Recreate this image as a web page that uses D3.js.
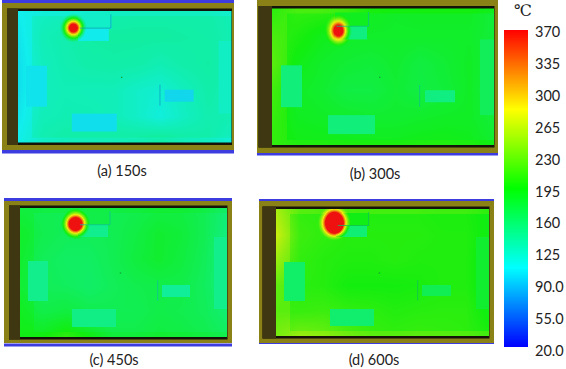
<!DOCTYPE html>
<html><head><meta charset="utf-8">
<script src="https://cdn.jsdelivr.net/npm/d3@7"></script>
<style>html,body{margin:0;padding:0;background:#fff}svg{display:block}text{font-family:Lato,"Open Sans",sans-serif;fill:#222}</style>
</head><body><svg id="c" width="566" height="369"></svg>
<script>
// ---- data ----
const panelNames = ["(a) 150s","(b) 300s","(c) 450s","(d) 600s"];
const tickLabels = ["370","335","300","265","230","195","160","125","90.0","55.0","20.0"];
const tickValues = [370,335,300,265,230,195,160,125,90,55,20];
const unit = "℃";
// air temperature grids (°C), 6 rows by 10 columns
const fieldA = [
 [116,124,126,128,132,134,134,134,134,128],
 [112,128,132,136,137,137,137,136,135,130],
 [110,126,131,134,135,134,130,134,136,130],
 [110,126,129,128,128,122,118,126,134,130],
 [113,128,130,130,128,122,114,124,132,130],
 [118,132,136,137,138,140,146,138,134,124]];
const fieldB = [
 [195,208,208,202,188,185,186,186,186,178],
 [208,200,190,185,184,184,184,184,184,178],
 [214,192,184,180,178,182,175,180,186,176],
 [204,186,182,174,174,180,174,178,186,172],
 [200,188,186,184,182,182,184,186,186,178],
 [198,192,192,190,190,190,192,192,190,182]];
const fieldC = [
 [170,168,168,168,168,170,174,174,168,154],
 [178,170,166,166,168,174,182,178,168,150],
 [176,166,162,162,168,176,182,176,166,148],
 [174,166,164,160,166,170,172,172,164,150],
 [182,172,176,170,168,168,172,170,166,156],
 [186,190,202,188,172,172,176,174,170,164]];
const fieldD = [
 [240,208,205,203,201,201,201,199,199,192],
 [254,212,207,203,203,203,203,201,201,192],
 [235,208,203,201,201,203,201,201,201,188],
 [212,205,203,196,196,196,198,201,201,188],
 [210,210,212,208,206,202,204,205,205,192],
 [222,235,230,218,210,208,210,208,206,200]];
// temperatures of: left unit, bottom unit, right unit, top block, shelf, right wall panel
const unitsA = [103,101,98,106,122,124];
const unitsB = [153,153,150,150,188,165];
const unitsC = [146,148,140,145,172,146];
const unitsD = [160,158,168,155,192,182];
// band temperature offset beside the walls
const edgeOffset = [-9,10,6,14];
const hotPeak = 370;

// ---- layout ----
const panels = [
 {f:[18,231.5,11,142.5],o:[2,234,3,150],bl:[0,3.5,150,153.5],hot:[25.7,12.5,4,4,14,15]},
 {f:[272,494,8.5,145],o:[257,498,0,153],bl:[0,1,153,155.5],hot:[29.7,15.8,4.5,5.5,14,17]},
 {f:[20,227,208,337],o:[4,232,201,343],bl:[198,201,343.5,346.5],hot:[26.6,12,6.5,6.5,15,16]},
 {f:[276,489,209,336],o:[259,494,201,343],bl:[199,201,343,344],hot:[27.2,10.5,9,10.5,17,18]}
];
const fields=[fieldA,fieldB,fieldC,fieldD], units=[unitsA,unitsB,unitsC,unitsD];
const labelPos=[[122,176],[375,179],[114,365],[374,365]];
// room plan in percent of the room: x0,x1,y0,y1
const plan=[[3.7,13.5,41,72],[25,46,78,91.5],[68.5,82,59.5,68.5],[28,42.5,13,22],[28,43.5,2.5,13],[93.5,100,22,78]];
const inner=[6.5,100,3.5,96];

const color=d3.scaleLinear().domain([20,107.5,195,282.5,370]).range(["#0000ff","#00ffff","#00ff00","#ffff00","#ff0000"]).clamp(true);
const muted=t=>d3.interpolateRgb(color(t),"#7f8070")(0.13);
const lerp=(a,b,t)=>a+(b-a)*t;
const svg=d3.select("#c");

panels.forEach((p,i)=>{
  const g=svg.append("g");
  const rect=(x0,x1,y0,y1,fill)=>g.append("rect").attr("x",x0).attr("y",y0).attr("width",x1-x0).attr("height",y1-y0).attr("fill",fill);
  rect(p.o[0],p.o[1],p.bl[0],p.bl[1],"#3c3ce0");
  rect(p.o[0],p.o[1],p.bl[2],p.bl[3],"#3c3ce0");
  rect(p.o[0],p.o[1],p.o[2],p.o[3],"#8a8216");
  const [fx0,fx1,fy0,fy1]=p.f;
  const wx=fx0-(i%2?13.5:11);
  rect(wx,fx1+0.5,fy0-2.5,fy1+2.5,"#15120a");
  rect(wx,fx0,fy0-2.5,fy1+2.5,"#3f3712");
  // temperature field
  const W=Math.round(fx1-fx0),H=Math.round(fy1-fy0);
  const sx=d3.scaleLinear().domain([0,100]).range([0,W]);
  const sy=d3.scaleLinear().domain([0,100]).range([0,H]);
  const grid=fields[i];
  const cols=grid[0].length,rows=grid.length;
  const gx=d3.scaleLinear().domain([0,W]).range([0,cols-1]);
  const gy=d3.scaleLinear().domain([0,H]).range([0,rows-1]);
  const hx=sx(p.hot[0]),hy=sy(p.hot[1]);
  const cv=document.createElement("canvas");cv.width=W;cv.height=H;
  const ctx=cv.getContext("2d");const img=ctx.createImageData(W,H);
  for(let y=0;y<H;y++)for(let x=0;x<W;x++){
    const u=gx(x),v=gy(y),c0=Math.min(Math.floor(u),cols-2),r0=Math.min(Math.floor(v),rows-2),a=u-c0,b=v-r0;
    let t=lerp(lerp(grid[r0][c0],grid[r0][c0+1],a),lerp(grid[r0+1][c0],grid[r0+1][c0+1],a),b);
    const px=sx.invert(x),py=sy.invert(y);
    if(px<inner[0]||py<inner[2]||py>inner[3])t+=edgeOffset[i];
    plan.forEach((r,k)=>{ if(px>=r[0]&&px<r[1]&&py>=r[2]&&py<r[3]) t=units[i][k]; });
    // burner plume
    const dx=x-hx,dy=y-hy,ang=Math.atan2(dy,dx);
    const rc=1/Math.hypot(Math.cos(ang)/p.hot[2],Math.sin(ang)/p.hot[3]);
    const ro=1/Math.hypot(Math.cos(ang)/p.hot[4],Math.sin(ang)/p.hot[5]);
    const d=Math.hypot(dx,dy);
    const f=d<=rc?1:d>=ro?0:1-(d-rc)/(ro-rc);
    if(f>0)t=t+(hotPeak-t)*Math.pow(f,1.6);
    const col=d3.rgb(muted(t)),j=4*(y*W+x);
    img.data[j]=col.r;img.data[j+1]=col.g;img.data[j+2]=col.b;img.data[j+3]=255;
  }
  ctx.putImageData(img,0,0);
  g.append("image").attr("x",fx0).attr("y",fy0).attr("width",fx1-fx0).attr("height",fy1-fy0)
   .attr("preserveAspectRatio","none").attr("href",cv.toDataURL()).style("filter","blur(0.6px)");
  const X=d3.scaleLinear().domain([0,100]).range([fx0,fx1]);
  const Y=d3.scaleLinear().domain([0,100]).range([fy0,fy1]);
  // shelf edge, partition and centre mark
  const dark=d3.rgb(muted(fields[i][2][4]-45)).darker(0.6).formatHex();
  g.append("path").attr("fill","none").attr("stroke",dark).attr("stroke-opacity",0.75).attr("stroke-width",1)
   .attr("d",`M${X(29)},${Y(13)}H${X(43.5)}V${Y(2.5)}`);
  g.append("line").attr("x1",X(66.5)).attr("x2",X(66.5)).attr("y1",Y(56)).attr("y2",Y(72)).attr("stroke",dark).attr("stroke-opacity",0.75).attr("stroke-width",1);
  g.append("rect").attr("x",X(48.2)).attr("y",Y(50)).attr("width",1.5).attr("height",1).attr("fill","#0a9a30");
  svg.append("text").attr("x",labelPos[i][0]).attr("y",labelPos[i][1]).attr("text-anchor","middle").attr("font-size",14.5).text(panelNames[i]);
});

// colour bar
const barY=d3.scaleLinear().domain([20,370]).range([347,30]);
const defs=svg.append("defs");
const lg=defs.append("linearGradient").attr("id","bar").attr("x1",0).attr("x2",0).attr("y1",1).attr("y2",0);
color.domain().forEach(v=>lg.append("stop").attr("offset",(v-20)/350).attr("stop-color",color(v)));
svg.append("rect").attr("x",504).attr("y",barY(370)).attr("width",24).attr("height",barY(20)-barY(370)).attr("fill","url(#bar)");
const labelY=d3.scaleLinear().domain([20,370]).range([356,37]);
svg.selectAll(".tk").data(tickValues).join("text").attr("class","tk").attr("x",535).attr("y",d=>labelY(d)).attr("font-size",14.5).text((d,i)=>tickLabels[i]);
svg.append("text").attr("x",514).attr("y",16).attr("font-size",16).style("font-family","'DejaVu Serif','Liberation Serif',serif").text(unit);
</script></body></html>
